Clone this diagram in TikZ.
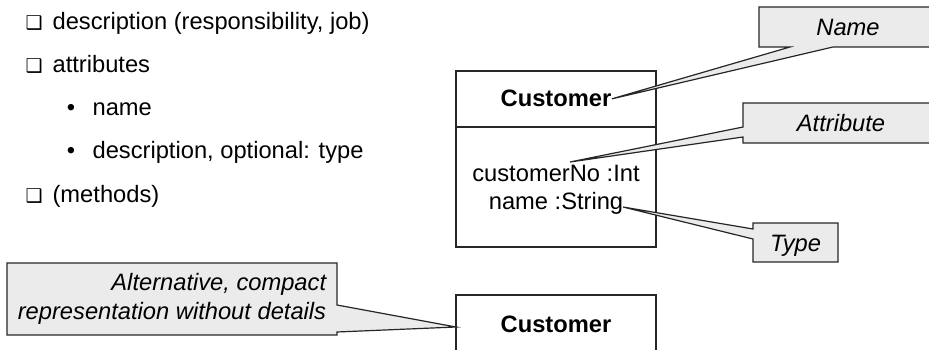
\documentclass[tikz,border=0pt]{standalone}
\usepackage{fontspec}
\setmainfont{Liberation Sans}
\newfontfamily\dingfont{DejaVu Sans}
\usetikzlibrary{calc}

\begin{document}
\begin{tikzpicture}[x=1pt,y=-1pt,line width=1.2pt]
\tikzstyle{item}=[anchor=base west,inner sep=0pt,font=\fontsize{23.7}{28}\selectfont]
\tikzstyle{check}=[anchor=base west,inner sep=0pt,font=\dingfont\fontsize{19}{24}\selectfont]
\tikzstyle{dot}=[anchor=base,inner sep=0pt,font=\fontsize{23.7}{28}\selectfont]
\tikzstyle{umlbox}=[draw=black!85,minimum width=200pt,inner sep=0pt,outer sep=0pt]
\tikzstyle{umltext}=[anchor=base,inner sep=0pt,font=\fontsize{23.7}{28}\selectfont]
\tikzstyle{note}=[fill=black!8,inner sep=0pt,outer sep=0pt,text height=17pt,text depth=0pt,
  font=\itshape\fontsize{23.7}{29}\selectfont]
\tikzstyle{outline}=[draw=black!85,line join=miter]

\useasboundingbox (0,0) rectangle (929,350);
\clip (0,0) rectangle (929,350);

% left list
\foreach \y/\t [count=\i] in {30/{description (responsibility, job)},73/attributes,202/{(methods)}}
{
  \node[check] (box\i) at (25,\y) {❑};
  \node[item] (item\i) at (52,\y) {\t};
}
\foreach \y/\t [count=\i] in {116/name,159/{description, optional: type}}
{
  \node[dot] (dot\i) at (71,\y) {\textbullet};
  \node[item] (sub\i) at (92,\y) {\t};
}

% full class
\node[umlbox,minimum height=56pt,anchor=north west] (clsHead) at (456,71) {};
\node[umlbox,minimum height=120pt,anchor=north west] (clsBody) at (456,127) {};
\node[umltext,font=\bfseries\fontsize{23.7}{28}\selectfont] (clsName) at (556,107) {Customer};
\node[umltext] (attr1) at (556,182) {customerNo :Int};
\node[umltext] (attr2) at (556,209) {name :String};

% compact class
\node[umlbox,minimum height=80pt,anchor=north west] (compact) at (456,295) {};
\node[umltext,font=\bfseries\fontsize{23.7}{28}\selectfont] (compactName) at (556,332) {Customer};

\coordinate (attrTip) at (570,162);
\coordinate (typeTip) at (623,207);
\coordinate (altTip) at (456,327);

% notes
\node[note,minimum width=178pt,minimum height=40pt] (nameNote) at (848,27) {Name};
\fill[black!8] ($(nameNote.south west)+(31,0)$) -- (clsName.east) -- ($(nameNote.south west)+(74,0)$) -- cycle;
\draw[outline] (nameNote.north west) -- (nameNote.north east) -- (nameNote.south east)
  -- ($(nameNote.south west)+(74,0)$) -- (clsName.east) -- ($(nameNote.south west)+(31,0)$)
  -- (nameNote.south west) -- cycle;

\node[note,minimum width=196pt,minimum height=40pt] (attrNote) at (841,123) {Attribute};
\fill[black!8] ($(attrNote.north west)+(0,24)$) -- (attrTip) -- ($(attrNote.north west)+(0,34)$) -- cycle;
\draw[outline] (attrNote.north west) -- (attrNote.north east) -- (attrNote.south east)
  -- (attrNote.south west) -- ($(attrNote.north west)+(0,34)$) -- (attrTip)
  -- ($(attrNote.north west)+(0,24)$) -- cycle;

\node[note,minimum width=85pt,minimum height=39pt] (typeNote) at (795.5,242.5) {Type};
\fill[black!8] ($(typeNote.north west)+(0,6)$) -- (typeTip) -- ($(typeNote.north west)+(0,16)$) -- cycle;
\draw[outline] (typeNote.north west) -- (typeNote.north east) -- (typeNote.south east)
  -- (typeNote.south west) -- ($(typeNote.north west)+(0,16)$) -- (typeTip)
  -- ($(typeNote.north west)+(0,6)$) -- cycle;

\node[note,minimum width=330pt,minimum height=72pt,align=right,text height=,text depth=]
  (altNote) at (172,299) {Alternative, compact\\representation without details};
\fill[black!8] ($(altNote.north east)+(0,42)$) -- (altTip) -- ($(altNote.north east)+(0,69)$) -- cycle;
\draw[outline] (altNote.north west) -- (altNote.north east) -- ($(altNote.north east)+(0,42)$)
  -- (altTip) -- ($(altNote.north east)+(0,69)$) -- (altNote.south east)
  -- (altNote.south west) -- cycle;

\end{tikzpicture}
\end{document}
